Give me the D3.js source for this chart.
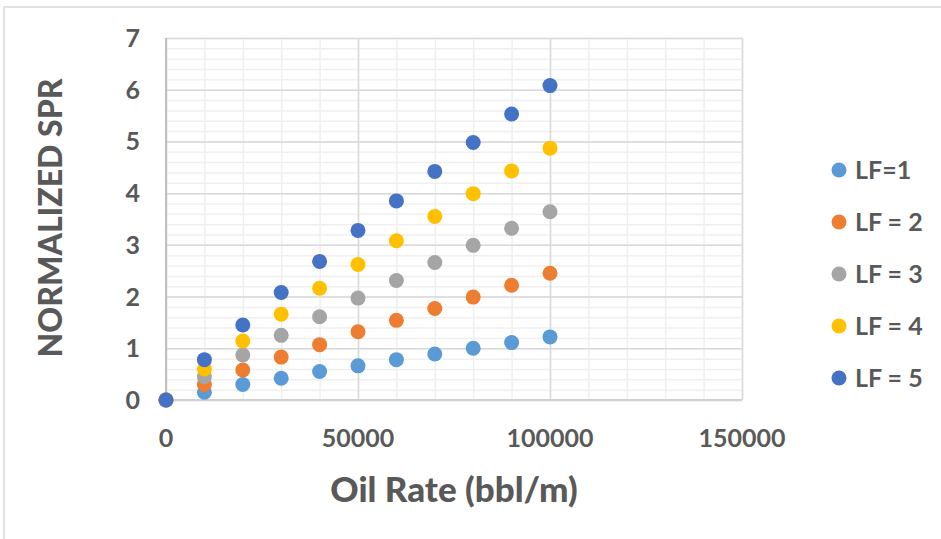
<!DOCTYPE html>
<html>
<head>
<meta charset="utf-8">
<script src="https://cdn.jsdelivr.net/npm/d3@7"></script>
<style>
  html, body { margin: 0; padding: 0; background: #fff; }
  svg { display: block; font-family: Lato, "Open Sans", sans-serif; font-weight: bold; }
</style>
</head>
<body>
<svg id="chart" width="941" height="539"></svg>
<script>
// oil rate values (bbl/m)
const oilRates = [0, 10000, 20000, 30000, 40000, 50000, 60000, 70000, 80000, 90000, 100000];

// normalized SPR, one array per load factor
const lf1 = [0, 0.15, 0.30, 0.42, 0.55, 0.66, 0.78, 0.89, 1.00, 1.11, 1.22];
const lf2 = [0, 0.30, 0.58, 0.83, 1.07, 1.32, 1.54, 1.77, 1.99, 2.22, 2.45];
const lf3 = [0, 0.45, 0.87, 1.25, 1.61, 1.97, 2.31, 2.66, 2.99, 3.32, 3.64];
const lf4 = [0, 0.60, 1.14, 1.66, 2.16, 2.62, 3.08, 3.55, 3.99, 4.43, 4.87];
const lf5 = [0, 0.78, 1.45, 2.08, 2.68, 3.28, 3.85, 4.42, 4.98, 5.53, 6.08];

const seriesNames = ['LF=1', 'LF = 2', 'LF = 3', 'LF = 4', 'LF = 5'];
const seriesValues = [lf1, lf2, lf3, lf4, lf5];
const colors = ['#5b9bd5', '#ed7d31', '#a5a5a5', '#ffc000', '#4472c4'];

const xTicks = [0, 50000, 100000, 150000];
const yTicks = [0, 1, 2, 3, 4, 5, 6, 7];

const svg = d3.select('#chart');

// outer chart frame
svg.append('rect')
    .attr('x', 4).attr('y', 7)
    .attr('width', 1000).attr('height', 1000)
    .attr('fill', 'none')
    .attr('stroke', '#d9d9d9')
    .attr('stroke-width', 1.5);

const plot = {left: 166, right: 742, top: 38, bottom: 400};

const xScale = d3.scaleLinear().domain([0, 150000]).range([plot.left, plot.right]);
const yScale = d3.scaleLinear().domain([0, 7]).range([plot.bottom, plot.top]);

const g = svg.append('g');

// minor gridlines
g.append('g')
    .attr('transform', `translate(0,${plot.bottom})`)
    .call(d3.axisBottom(xScale).tickValues(d3.range(0, 150001, 10000)).tickSize(-(plot.bottom - plot.top)).tickFormat(''))
    .call(a => a.select('.domain').remove())
    .call(a => a.selectAll('line').attr('stroke', '#efefef').attr('stroke-width', 1.5));

g.append('g')
    .attr('transform', `translate(${plot.left},0)`)
    .call(d3.axisLeft(yScale).tickValues(d3.range(0, 7.01, 0.2)).tickSize(-(plot.right - plot.left)).tickFormat(''))
    .call(a => a.select('.domain').remove())
    .call(a => a.selectAll('line').attr('stroke', '#efefef').attr('stroke-width', 1.5));

// major gridlines
g.append('g')
    .attr('transform', `translate(0,${plot.bottom})`)
    .call(d3.axisBottom(xScale).tickValues(xTicks).tickSize(-(plot.bottom - plot.top)).tickFormat(''))
    .call(a => a.select('.domain').remove())
    .call(a => a.selectAll('line').attr('stroke', '#d9d9d9').attr('stroke-width', 1.5));

g.append('g')
    .attr('transform', `translate(${plot.left},0)`)
    .call(d3.axisLeft(yScale).tickValues(yTicks).tickSize(-(plot.right - plot.left)).tickFormat(''))
    .call(a => a.select('.domain').remove())
    .call(a => a.selectAll('line').attr('stroke', '#d9d9d9').attr('stroke-width', 1.5));

// axis lines
g.append('line')
    .attr('x1', plot.left).attr('x2', plot.left)
    .attr('y1', plot.top).attr('y2', plot.bottom)
    .attr('stroke', '#bfbfbf').attr('stroke-width', 2);
g.append('line')
    .attr('x1', plot.left).attr('x2', plot.right)
    .attr('y1', plot.bottom).attr('y2', plot.bottom)
    .attr('stroke', '#d0d0d0').attr('stroke-width', 2);

// tick labels
g.selectAll('.xlab')
    .data(xTicks)
    .join('text')
    .attr('class', 'xlab')
    .attr('x', d => xScale(d))
    .attr('y', 447)
    .attr('text-anchor', 'middle')
    .attr('fill', '#595959')
    .attr('font-size', 25)
    .text(d => d);

g.selectAll('.ylab')
    .data(yTicks)
    .join('text')
    .attr('class', 'ylab')
    .attr('x', 140)
    .attr('y', d => yScale(d) + 9)
    .attr('text-anchor', 'end')
    .attr('fill', '#595959')
    .attr('font-size', 25)
    .text(d => d);

// axis titles
svg.append('text')
    .attr('x', 454)
    .attr('y', 502)
    .attr('text-anchor', 'middle')
    .attr('fill', '#595959')
    .attr('font-size', 35)
    .attr('font-weight', 900)
    .text('Oil Rate (bbl/m)');

svg.append('text')
    .attr('transform', 'translate(62,218) rotate(-90)')
    .attr('text-anchor', 'middle')
    .attr('fill', '#595959')
    .attr('font-size', 32)
    .attr('font-weight', 900)
    .text('NORMALIZED SPR');

// points, LF=1 first so LF=5 ends on top
seriesValues.forEach((vals, i) => {
    g.append('g')
        .selectAll('circle')
        .data(oilRates.map((x, j) => ({x, y: vals[j]})))
        .join('circle')
        .attr('cx', d => xScale(d.x))
        .attr('cy', d => yScale(d.y))
        .attr('r', 7.5)
        .attr('fill', colors[i]);
});

// legend
const legend = svg.append('g').attr('transform', 'translate(839,170)');
const items = legend.selectAll('g')
    .data(seriesNames)
    .join('g')
    .attr('transform', (d, i) => `translate(0,${i * 52})`);
items.append('circle')
    .attr('r', 7.5)
    .attr('fill', (d, i) => colors[i]);
items.append('text')
    .attr('x', 16)
    .attr('y', 9)
    .attr('fill', '#595959')
    .attr('font-size', 25)
    .text(d => d);
</script>
</body>
</html>
